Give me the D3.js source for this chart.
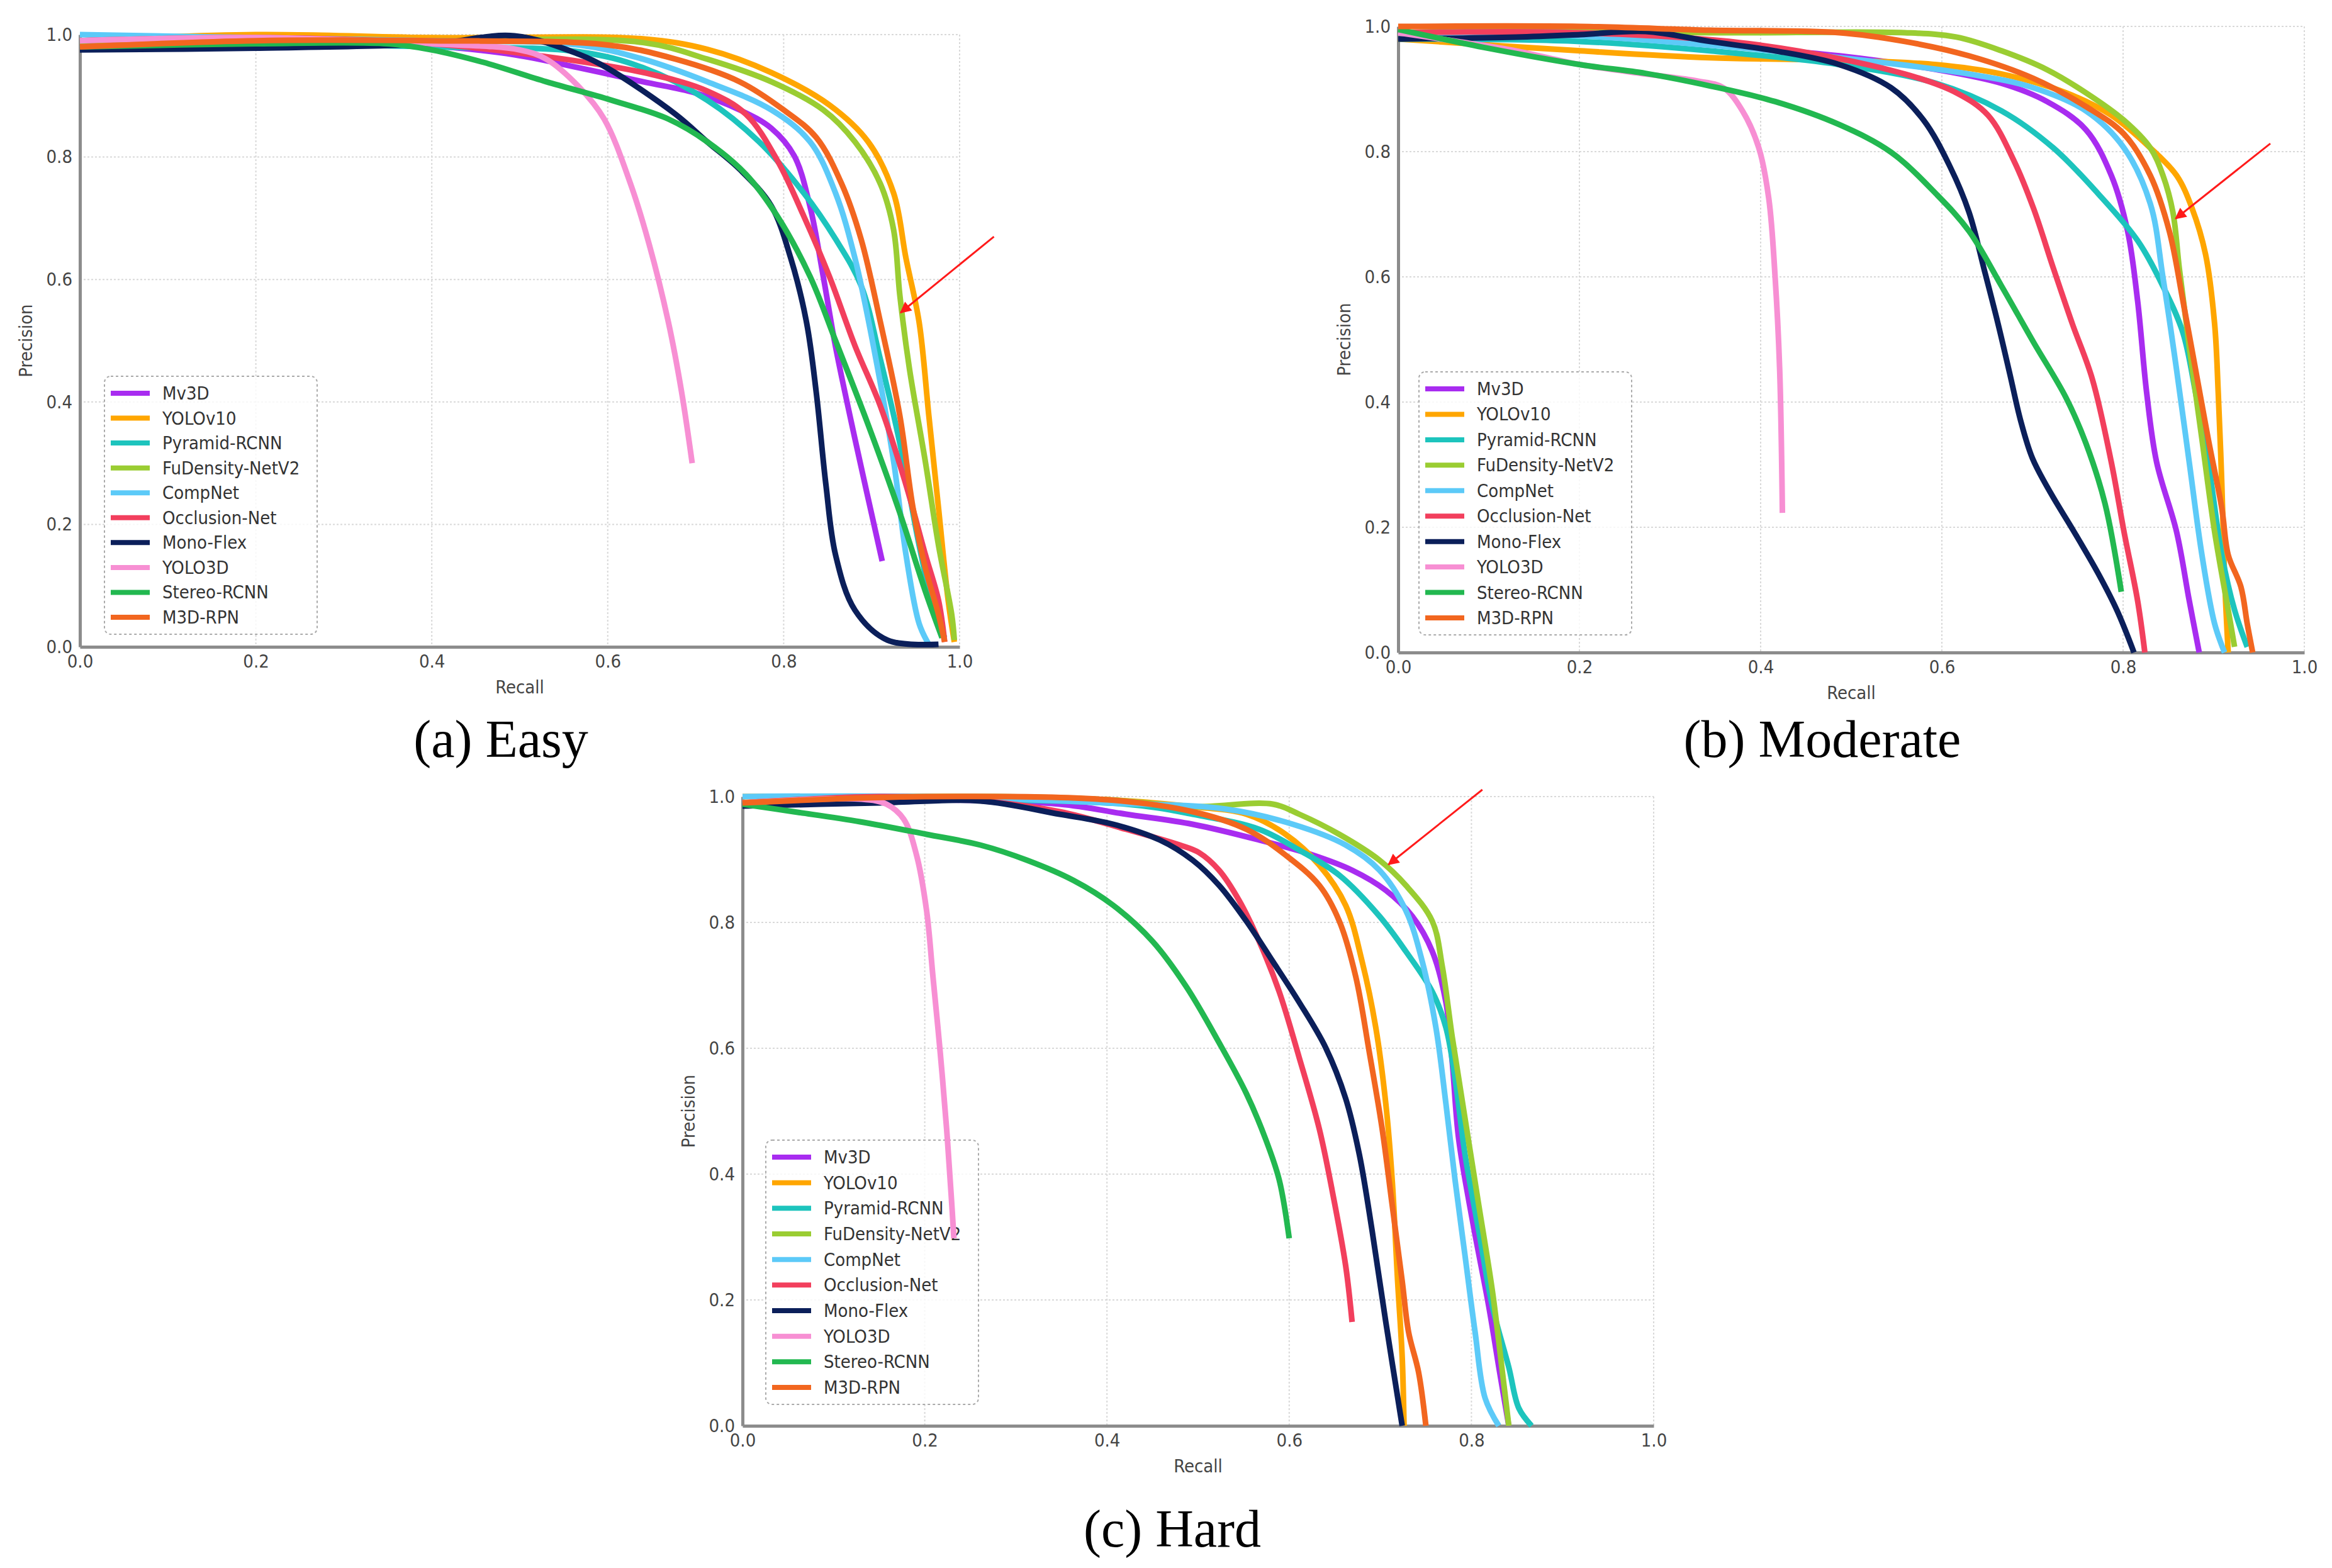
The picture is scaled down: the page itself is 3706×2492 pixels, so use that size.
<!DOCTYPE html>
<html>
<head>
<meta charset="utf-8">
<script src="https://cdn.jsdelivr.net/npm/d3@7"></script>
<style>
  body { margin: 0; background: #fff; }
  svg { display: block; }
</style>
</head>
<body>
<div id="chart"></div>
<script>
const methods = ['Mv3D', 'YOLOv10', 'Pyramid-RCNN', 'FuDensity-NetV2', 'CompNet',
  'Occlusion-Net', 'Mono-Flex', 'YOLO3D', 'Stereo-RCNN', 'M3D-RPN']
const colors = ['#a82cf0', '#ffa600', '#1dc4bd', '#9acd32', '#5ccaf8',
  '#f23f5d', '#0b1f5a', '#f78fd3', '#22b850', '#f2661f']
const ticks = [0, 0.2, 0.4, 0.6, 0.8, 1.0]
const captions = ['(a) Easy', '(b) Moderate', '(c) Hard']

// [recall, precision] per method, same order as `methods`
const easyCurves = [
  [[0,0.99],[0.15,0.995],[0.3,0.99],[0.4,0.982],[0.494,0.967],[0.567,0.946],[0.64,0.923],[0.699,0.905],[0.75,0.877],[0.786,0.847],[0.812,0.802],[0.83,0.719],[0.845,0.605],[0.859,0.49],[0.881,0.34],[0.912,0.14]],
  [[0,0.99],[0.2,1.0],[0.4,0.995],[0.64,0.993],[0.713,0.976],[0.786,0.938],[0.852,0.885],[0.896,0.825],[0.925,0.741],[0.939,0.635],[0.954,0.53],[0.965,0.378],[0.976,0.227],[0.987,0.076],[0.994,0.008]],
  [[0,0.98],[0.2,0.985],[0.4,0.98],[0.567,0.972],[0.64,0.946],[0.713,0.893],[0.772,0.825],[0.823,0.741],[0.859,0.666],[0.888,0.59],[0.91,0.469],[0.932,0.333],[0.954,0.166],[0.972,0.053],[0.983,0.015]],
  [[0,0.985],[0.2,0.99],[0.4,0.99],[0.64,0.987],[0.713,0.96],[0.786,0.923],[0.845,0.877],[0.881,0.825],[0.91,0.756],[0.925,0.681],[0.932,0.575],[0.943,0.454],[0.961,0.303],[0.976,0.166],[0.991,0.053],[0.994,0.011]],
  [[0,1.0],[0.2,0.995],[0.4,0.99],[0.567,0.983],[0.64,0.96],[0.713,0.923],[0.786,0.877],[0.83,0.825],[0.859,0.741],[0.881,0.635],[0.903,0.484],[0.925,0.303],[0.939,0.151],[0.954,0.038],[0.965,0.004]],
  [[0,0.99],[0.2,0.995],[0.4,0.985],[0.55,0.96],[0.65,0.935],[0.713,0.908],[0.757,0.87],[0.793,0.794],[0.823,0.703],[0.852,0.605],[0.881,0.492],[0.91,0.393],[0.939,0.265],[0.961,0.151],[0.976,0.076],[0.983,0.008]],
  [[0,0.975],[0.2,0.978],[0.4,0.985],[0.494,0.998],[0.567,0.968],[0.6,0.945],[0.677,0.87],[0.713,0.825],[0.75,0.78],[0.786,0.72],[0.808,0.635],[0.826,0.53],[0.837,0.416],[0.848,0.265],[0.859,0.15],[0.881,0.06],[0.918,0.011],[0.976,0.004]],
  [[0,0.99],[0.2,0.995],[0.4,0.985],[0.5,0.975],[0.53,0.96],[0.567,0.915],[0.596,0.862],[0.626,0.756],[0.647,0.658],[0.669,0.53],[0.684,0.416],[0.696,0.30]],
  [[0,0.98],[0.2,0.985],[0.35,0.985],[0.4,0.975],[0.458,0.955],[0.53,0.923],[0.604,0.893],[0.669,0.862],[0.713,0.825],[0.757,0.772],[0.793,0.703],[0.83,0.605],[0.859,0.5],[0.896,0.363],[0.932,0.219],[0.961,0.091],[0.98,0.015]],
  [[0,0.98],[0.2,0.99],[0.4,0.99],[0.6,0.983],[0.677,0.96],[0.75,0.923],[0.80,0.877],[0.837,0.832],[0.866,0.756],[0.888,0.666],[0.91,0.53],[0.932,0.378],[0.947,0.227],[0.961,0.129],[0.976,0.053],[0.983,0.008]]
]

const moderateCurves = [
  [[0,0.99],[0.2,0.99],[0.344,0.971],[0.487,0.953],[0.594,0.931],[0.666,0.909],[0.716,0.88],[0.759,0.835],[0.787,0.762],[0.805,0.673],[0.816,0.562],[0.826,0.415],[0.837,0.304],[0.859,0.193],[0.873,0.083],[0.884,0.0]],
  [[0,0.98],[0.201,0.961],[0.344,0.95],[0.487,0.946],[0.594,0.939],[0.666,0.924],[0.737,0.894],[0.787,0.858],[0.83,0.806],[0.859,0.762],[0.876,0.71],[0.891,0.636],[0.901,0.525],[0.905,0.415],[0.909,0.267],[0.912,0.12],[0.916,0.0]],
  [[0,0.98],[0.201,0.976],[0.344,0.961],[0.487,0.939],[0.594,0.909],[0.666,0.865],[0.723,0.806],[0.773,0.732],[0.816,0.658],[0.844,0.585],[0.866,0.511],[0.88,0.415],[0.894,0.304],[0.909,0.156],[0.923,0.068],[0.937,0.009]],
  [[0,0.99],[0.2,0.995],[0.344,0.99],[0.559,0.99],[0.616,0.983],[0.666,0.961],[0.716,0.931],[0.759,0.894],[0.801,0.85],[0.83,0.806],[0.844,0.762],[0.855,0.703],[0.862,0.614],[0.873,0.489],[0.887,0.341],[0.901,0.193],[0.916,0.068],[0.923,0.009]],
  [[0,0.99],[0.2,0.985],[0.344,0.97],[0.487,0.95],[0.63,0.924],[0.701,0.902],[0.759,0.865],[0.801,0.806],[0.83,0.717],[0.844,0.599],[0.859,0.452],[0.873,0.304],[0.887,0.156],[0.901,0.046],[0.912,0.0]],
  [[0,0.99],[0.2,0.99],[0.4,0.97],[0.559,0.924],[0.616,0.894],[0.651,0.858],[0.68,0.784],[0.701,0.71],[0.723,0.614],[0.744,0.525],[0.766,0.437],[0.787,0.304],[0.801,0.193],[0.816,0.083],[0.824,0.0]],
  [[0,0.98],[0.13,0.983],[0.201,0.987],[0.273,0.992],[0.344,0.976],[0.416,0.961],[0.487,0.939],[0.544,0.902],[0.58,0.85],[0.609,0.776],[0.63,0.703],[0.647,0.61],[0.662,0.525],[0.675,0.445],[0.687,0.37],[0.70,0.31],[0.72,0.255],[0.745,0.195],[0.773,0.125],[0.794,0.065],[0.812,0.0]],
  [[0,0.99],[0.07,0.975],[0.13,0.961],[0.201,0.939],[0.273,0.924],[0.33,0.913],[0.359,0.902],[0.38,0.865],[0.398,0.806],[0.409,0.725],[0.416,0.599],[0.421,0.452],[0.424,0.223]],
  [[0,0.995],[0.1,0.965],[0.201,0.939],[0.273,0.925],[0.344,0.905],[0.416,0.88],[0.487,0.843],[0.544,0.799],[0.594,0.732],[0.63,0.673],[0.666,0.585],[0.701,0.496],[0.737,0.407],[0.759,0.334],[0.78,0.238],[0.798,0.097]],
  [[0,1.0],[0.2,1.0],[0.344,0.994],[0.487,0.99],[0.559,0.976],[0.63,0.953],[0.701,0.917],[0.759,0.872],[0.801,0.828],[0.83,0.762],[0.851,0.673],[0.866,0.562],[0.88,0.452],[0.894,0.341],[0.909,0.23],[0.916,0.156],[0.93,0.105],[0.937,0.046],[0.943,0.0]]
]

const hardCurves = [
  [[0,0.99],[0.2,0.995],[0.348,0.988],[0.421,0.972],[0.494,0.956],[0.567,0.931],[0.626,0.907],[0.669,0.883],[0.706,0.851],[0.735,0.81],[0.757,0.754],[0.772,0.673],[0.779,0.577],[0.786,0.456],[0.801,0.327],[0.819,0.19],[0.831,0.085],[0.841,0.0]],
  [[0,1.0],[0.2,1.0],[0.4,0.995],[0.494,0.984],[0.553,0.972],[0.596,0.94],[0.633,0.891],[0.662,0.827],[0.68,0.738],[0.695,0.633],[0.706,0.512],[0.713,0.391],[0.719,0.23],[0.724,0.109],[0.726,0.0]],
  [[0,0.99],[0.2,0.995],[0.421,0.988],[0.494,0.972],[0.567,0.948],[0.611,0.915],[0.655,0.875],[0.699,0.81],[0.728,0.754],[0.757,0.69],[0.772,0.633],[0.782,0.552],[0.793,0.431],[0.808,0.31],[0.823,0.19],[0.841,0.093],[0.852,0.028],[0.866,0.0]],
  [[0,0.99],[0.2,1.0],[0.4,0.995],[0.494,0.984],[0.582,0.988],[0.611,0.972],[0.655,0.94],[0.699,0.899],[0.728,0.859],[0.757,0.802],[0.768,0.73],[0.779,0.617],[0.793,0.488],[0.808,0.351],[0.823,0.214],[0.834,0.085],[0.841,0.0]],
  [[0,1.0],[0.2,1.0],[0.4,0.99],[0.531,0.98],[0.604,0.956],[0.662,0.923],[0.699,0.883],[0.728,0.819],[0.746,0.738],[0.761,0.633],[0.772,0.512],[0.782,0.391],[0.793,0.27],[0.804,0.149],[0.815,0.044],[0.83,0.0]],
  [[0,0.99],[0.15,1.0],[0.25,0.995],[0.348,0.976],[0.421,0.948],[0.48,0.923],[0.501,0.911],[0.523,0.883],[0.545,0.835],[0.567,0.77],[0.589,0.69],[0.611,0.585],[0.633,0.472],[0.647,0.375],[0.662,0.254],[0.669,0.165]],
  [[0,0.985],[0.15,0.99],[0.261,0.993],[0.348,0.972],[0.407,0.956],[0.458,0.931],[0.494,0.899],[0.523,0.859],[0.553,0.802],[0.582,0.738],[0.611,0.673],[0.64,0.601],[0.662,0.52],[0.677,0.431],[0.691,0.31],[0.706,0.165],[0.724,0.0]],
  [[0,0.99],[0.13,0.996],[0.158,0.988],[0.177,0.964],[0.191,0.907],[0.202,0.819],[0.209,0.714],[0.217,0.593],[0.224,0.472],[0.229,0.367],[0.232,0.298]],
  [[0,0.988],[0.056,0.976],[0.129,0.96],[0.202,0.94],[0.261,0.923],[0.312,0.899],[0.363,0.867],[0.407,0.827],[0.45,0.77],[0.487,0.698],[0.523,0.609],[0.553,0.528],[0.574,0.456],[0.589,0.391],[0.6,0.298]],
  [[0,0.99],[0.2,1.0],[0.4,0.995],[0.494,0.976],[0.553,0.948],[0.596,0.907],[0.633,0.859],[0.655,0.802],[0.673,0.714],[0.688,0.593],[0.702,0.472],[0.713,0.351],[0.724,0.23],[0.731,0.149],[0.742,0.085],[0.75,0.0]]
]

// red arrows: [tail, tip] in data units
const arrows = [
  [[1.039, 0.67], [0.933, 0.546]],
  [[0.9625, 0.813], [0.858, 0.693]],
  [[0.812, 1.011], [0.709, 0.892]]
]

const panels = [
  { curves: easyCurves, left: 127, top: 55, w: 1398, h: 973, capX: 796, capY: 1203, legX: 39, legY: 543, legH: 410 },
  { curves: moderateCurves, left: 2222, top: 42, w: 1440, h: 995, capX: 2896, capY: 1203, legX: 33, legY: 549, legH: 418 },
  { curves: hardCurves, left: 1180, top: 1266, w: 1448, h: 1000, capX: 1863, capY: 2458, legX: 37, legY: 546, legH: 420 }
]

const W = 3706, H = 2492
const sans = "'DejaVu Sans Condensed', 'DejaVu Sans', sans-serif"

const svg = d3.select('#chart').append('svg')
  .attr('width', W)
  .attr('height', H)

svg.append('defs').append('marker')
  .attr('id', 'head')
  .attr('viewBox', '0 0 10 10')
  .attr('refX', 9)
  .attr('refY', 5)
  .attr('markerWidth', 7)
  .attr('markerHeight', 6)
  .attr('markerUnits', 'strokeWidth')
  .attr('orient', 'auto')
  .append('path')
  .attr('d', 'M0,0 L10,5 L0,10 z')
  .attr('fill', '#ff1a1a')

panels.forEach((p, pi) => {
  const x = d3.scaleLinear().domain([0, 1]).range([0, p.w])
  const y = d3.scaleLinear().domain([0, 1]).range([p.h, 0])

  const g = svg.append('g').attr('transform', `translate(${p.left},${p.top})`)

  // dotted grid
  g.append('g').selectAll('line').data(ticks.slice(1)).join('line')
    .attr('x1', d => x(d)).attr('x2', d => x(d))
    .attr('y1', 0).attr('y2', p.h)
    .attr('stroke', '#d9d9d9').attr('stroke-width', 2).attr('stroke-dasharray', '3,3')
  g.append('g').selectAll('line').data(ticks.slice(1)).join('line')
    .attr('x1', 0).attr('x2', p.w)
    .attr('y1', d => y(d)).attr('y2', d => y(d))
    .attr('stroke', '#d9d9d9').attr('stroke-width', 2).attr('stroke-dasharray', '3,3')

  // axes
  const xAxis = g.append('g').attr('transform', `translate(0,${p.h})`)
    .call(d3.axisBottom(x).tickValues(ticks).tickFormat(d3.format('.1f')).tickSize(0).tickPadding(12))
  const yAxis = g.append('g')
    .call(d3.axisLeft(y).tickValues(ticks).tickFormat(d3.format('.1f')).tickSize(0).tickPadding(12))
  ;[xAxis, yAxis].forEach(a => {
    a.select('.domain').attr('stroke', '#8c8c8c').attr('stroke-width', 5)
    a.selectAll('text').attr('font-family', sans).attr('font-size', 29).attr('fill', '#444')
  })

  g.append('text')
    .attr('x', p.w / 2)
    .attr('y', p.h + 74)
    .attr('text-anchor', 'middle')
    .attr('font-family', sans).attr('font-size', 29).attr('fill', '#444')
    .text('Recall')
  g.append('text')
    .attr('transform', `translate(-76,${p.h / 2}) rotate(-90)`)
    .attr('text-anchor', 'middle')
    .attr('font-family', sans).attr('font-size', 29).attr('fill', '#444')
    .text('Precision')

  // legend (drawn under the curves)
  const step = (p.legH - 54) / 9
  const lg = g.append('g').attr('transform', `translate(${p.legX},${p.legY})`)
  lg.append('rect')
    .attr('width', 338).attr('height', p.legH)
    .attr('rx', 10)
    .attr('fill', '#fff').attr('fill-opacity', 0.8)
    .attr('stroke', '#aaa').attr('stroke-width', 2).attr('stroke-dasharray', '4,4')
  methods.forEach((m, i) => {
    const ly = 27 + i * step
    lg.append('line')
      .attr('x1', 10).attr('x2', 72)
      .attr('y1', ly).attr('y2', ly)
      .attr('stroke', colors[i]).attr('stroke-width', 8)
    lg.append('text')
      .attr('x', 92).attr('y', ly + 10)
      .attr('font-family', sans).attr('font-size', 29).attr('fill', '#333')
      .text(m)
  })

  // curves
  const line = d3.line()
    .x(d => x(d[0]))
    .y(d => y(d[1]))
    .curve(d3.curveCatmullRom.alpha(0.5))
  p.curves.forEach((c, i) => {
    g.append('path')
      .datum(c)
      .attr('d', line)
      .attr('fill', 'none')
      .attr('stroke', colors[i])
      .attr('stroke-width', 9)
      .attr('stroke-linecap', 'butt')
      .attr('stroke-linejoin', 'round')
  })

  // arrow
  const a = arrows[pi]
  g.append('line')
    .attr('x1', x(a[0][0])).attr('y1', y(a[0][1]))
    .attr('x2', x(a[1][0])).attr('y2', y(a[1][1]))
    .attr('stroke', '#ff1a1a').attr('stroke-width', 3)
    .attr('marker-end', 'url(#head)')

  svg.append('text')
    .attr('x', p.capX).attr('y', p.capY)
    .attr('text-anchor', 'middle')
    .attr('font-family', "'Liberation Serif', 'Times New Roman', serif")
    .attr('font-size', 84).attr('fill', '#000')
    .text(captions[pi])
})
</script>
</body>
</html>
